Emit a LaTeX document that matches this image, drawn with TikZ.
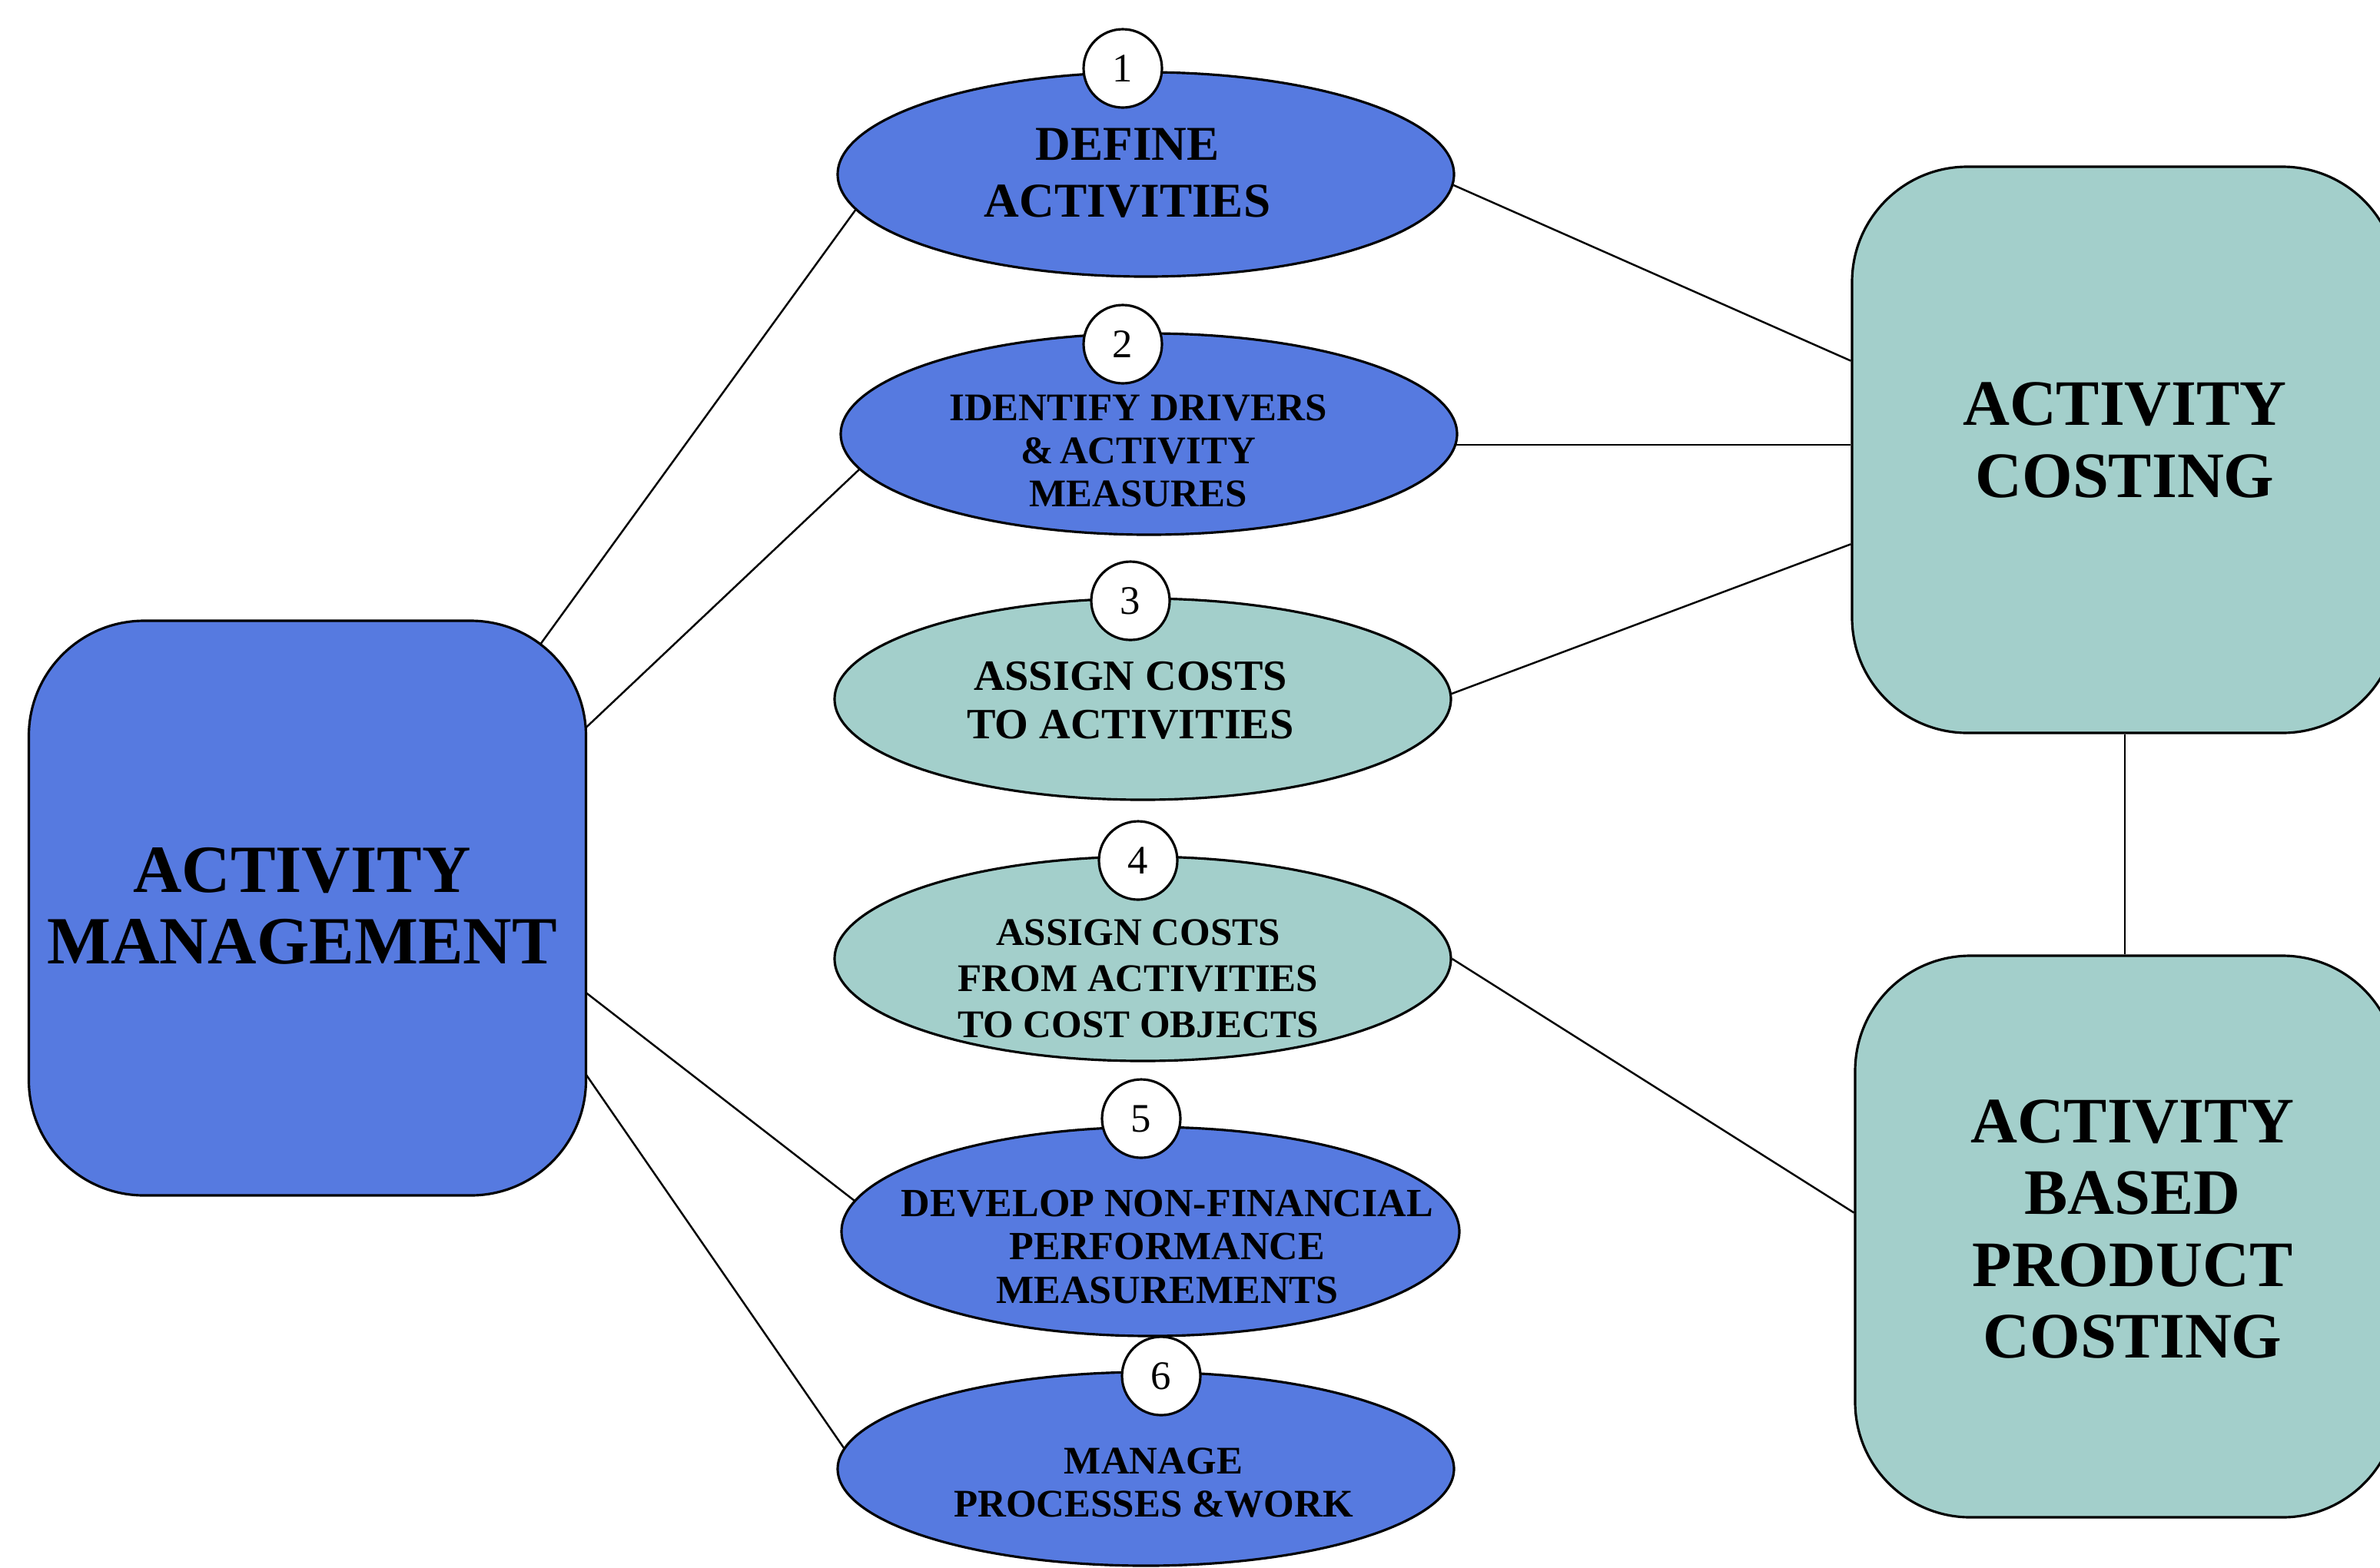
\documentclass[tikz,border=0pt]{standalone}
\usepackage{fontspec}
\setmainfont{Liberation Serif}
\usetikzlibrary{shapes.geometric,backgrounds}
\definecolor{abcblue}{RGB}{86,122,224}
\definecolor{abcteal}{RGB}{163,207,203}

\begin{document}
\begin{tikzpicture}[
  bigbox/.style={draw=black, line width=0.9pt, rounded corners=1.5cm, inner sep=0pt},
  boxtext/.style={align=center, inner sep=0pt, font=\bfseries\fontsize{24}{26.5}\selectfont},
  stepoval/.style={ellipse, draw=black, line width=0.9pt, inner sep=0pt},
  steptext/.style={align=center, inner sep=0pt},
  numdisc/.style={circle, draw=black, line width=0.9pt, fill=white, inner sep=0pt,
                  minimum size=1.02cm, font=\fontsize{15}{15}\selectfont},
  link/.style={draw=black, line width=0.7pt},
  % lines run on into a block, under its fill, so they meet rounded corners
  intoblock/.style={shorten <=-1cm}
]
\useasboundingbox (0,0) rectangle (30.97,-20.40);
\clip (0,0) rectangle (30.97,-20.40);

% left and right blocks
\node[bigbox, fill=abcblue, minimum width=7.25cm, minimum height=7.48cm] (am) at (4.00,-11.82) {};
\node[boxtext, font=\bfseries\fontsize{25}{26.5}\selectfont] (amt) at (3.93,-11.79) {ACTIVITY\\MANAGEMENT};

\node[bigbox, fill=abcteal, minimum width=7.10cm, minimum height=7.37cm] (ac) at (27.65,-5.855) {};
\node[boxtext] (act) at (27.65,-5.73) {ACTIVITY\\COSTING};

\node[bigbox, fill=abcteal, minimum width=7.06cm, minimum height=7.31cm] (abpc) at (27.67,-16.095) {};
\node[boxtext] (abpct) at (27.75,-16.00) {ACTIVITY\\BASED\\PRODUCT\\COSTING};

% the six steps
\node[stepoval, fill=abcblue, minimum width=8.02cm, minimum height=2.66cm] (e1) at (14.91,-2.27) {};
\node[stepoval, fill=abcblue, minimum width=8.02cm, minimum height=2.62cm] (e2) at (14.95,-5.65) {};
\node[stepoval, fill=abcteal, minimum width=8.02cm, minimum height=2.62cm] (e3) at (14.87,-9.10) {};
\node[stepoval, fill=abcteal, minimum width=8.02cm, minimum height=2.66cm] (e4) at (14.87,-12.48) {};
\node[stepoval, fill=abcblue, minimum width=8.04cm, minimum height=2.72cm] (e5) at (14.97,-16.03) {};
\node[stepoval, fill=abcblue, minimum width=8.02cm, minimum height=2.52cm] (e6) at (14.91,-19.12) {};

\node[steptext, font=\bfseries\fontsize{18}{21}\selectfont] (e1t) at (14.67,-2.25) {DEFINE\\ACTIVITIES};
\node[steptext, font=\bfseries\fontsize{14.5}{16}\selectfont] (e2t) at (14.81,-5.87) {IDENTIFY DRIVERS\\\&\,ACTIVITY\\MEASURES};
\node[steptext, font=\bfseries\fontsize{16}{18}\selectfont] (e3t) at (14.71,-9.12) {ASSIGN COSTS\\TO ACTIVITIES};
\node[steptext, font=\bfseries\fontsize{14.5}{17}\selectfont] (e4t) at (14.81,-12.74) {ASSIGN COSTS\\FROM ACTIVITIES\\TO COST OBJECTS};
\node[steptext, font=\bfseries\fontsize{14.8}{16}\selectfont] (e5t) at (15.19,-16.23) {DEVELOP NON-FINANCIAL\\PERFORMANCE\\MEASUREMENTS};
\node[steptext, font=\bfseries\fontsize{14.5}{16}\selectfont] (e6t) at (15.01,-19.30) {MANAGE\\PROCESSES \&WORK};

% step numbers
\node[numdisc] (c1) at (14.61,-0.89) {1};
\node[numdisc] (c2) at (14.61,-4.48) {2};
\node[numdisc] (c3) at (14.71,-7.82) {3};
\node[numdisc] (c4) at (14.81,-11.20) {4};
\node[numdisc] (c5) at (14.85,-14.56) {5};
\node[numdisc] (c6) at (15.11,-17.91) {6};

% white page and connectors, behind the shapes
\begin{scope}[on background layer]
  \fill[white] (0,0) rectangle (30.97,-20.40);
  \draw[link, intoblock] (am.49) -- (e1.187);
  \draw[link, intoblock] (am.33) -- (e2.187);
  \draw[link, intoblock] (am.-17) -- (e5.174);
  \draw[link, intoblock] (am.-31) -- (e6.176);
  \draw[link] (e1.-2) -- (ac.162);
  \draw[link] (e2.-2.6) -- (e2.-2.6 -| ac.west);
  \draw[link] (e3.1.6) -- (ac.199);
  \draw[link] (e4.east) -- (abpc.175);
  \draw[link] (ac.south) -- (ac.south |- abpc.north);
\end{scope}
\end{tikzpicture}
\end{document}
